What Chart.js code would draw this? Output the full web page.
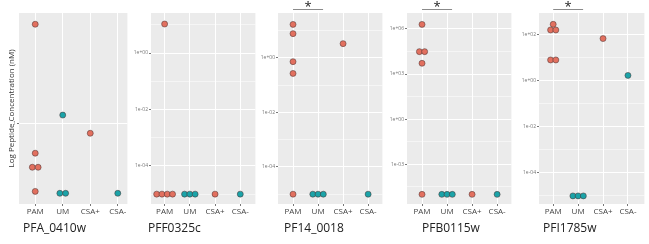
<!DOCTYPE html>
<html>
<head>
<meta charset="utf-8">
<script src="https://cdn.jsdelivr.net/npm/chart.js@4.4.0/dist/chart.umd.min.js"></script>
<style>
    body { margin: 0; background: #fff; width: 649px; height: 244px; overflow: hidden; position: relative; }
    canvas { position: absolute; top: 0; }
    .gene { position: absolute; top: 220px; line-height: 16px; font-family: "Open Sans", sans-serif; font-size: 12px; color: #222; white-space: nowrap; }
</style>
</head>
<body>
<script>
var categories = ['PAM', 'UM', 'CSA+', 'CSA-'];
var genes = ['PFA_0410w', 'PFF0325c', 'PF14_0018', 'PFB0115w', 'PFI1785w'];

// peptide concentration (nM) per category: PAM, UM, CSA+, CSA-
var pfa0410w = [[5.8, 0.59, 0.46, 0.46, 0.30], [1.16, 0.29, 0.29], [0.84], [0.29]];
var pff0325c = [[10.7, 1e-5, 1e-5, 1e-5, 1e-5], [1e-5, 1e-5, 1e-5], [1e-5], [1e-5]];
var pf14_0018 = [[17, 7.8, 0.73, 0.27, 1e-5], [1e-5, 1e-5, 1e-5], [3.35], [1e-5]];
var pfb0115w = [[2.0e6, 3.1e4, 3.1e4, 5.2e3, 1e-5], [1e-5, 1e-5, 1e-5], [1e-5], [1e-5]];
var pfi1785w = [[270, 153, 153, 7.7, 7.7], [1e-5, 1e-5, 1e-5], [65], [1.65]];

// major breaks (log10) and tick labels
var p1Breaks = [0], p1Labels = ['1'];
var p2Breaks = [0, -2, -4], p2Labels = ['1e+00', '1e-02', '1e-04'];
var p3Breaks = [0, -2, -4], p3Labels = ['1e+00', '1e-02', '1e-04'];
var p4Breaks = [6, 3, 0, -3], p4Labels = ['1e+06', '1e+03', '1e+00', '1e-03'];
var p5Breaks = [2, 0, -2, -4], p5Labels = ['1e+02', '1e+00', '1e-02', '1e-04'];

// y limits (log10)
var p1Lim = [-0.62, 0.85];
var p2Lim = [-5.35, 1.42];
var p3Lim = [-5.36, 1.65];
var p4Lim = [-5.64, 7.06];
var p5Lim = [-5.35, 2.92];

var dotFill = ['#E2705F', '#1BA3A8', '#E2705F', '#1BA3A8'];
var FONT = '"Open Sans", sans-serif';

var panels = [
    { values: pfa0410w, breaks: p1Breaks, labels: p1Labels, lim: p1Lim, star: false, left: 0, axisW: 19, right: 132, xmin: 0.41, xmax: 4.35, titleX: 23, ytitle: true },
    { values: pff0325c, breaks: p2Breaks, labels: p2Labels, lim: p2Lim, star: false, left: 129, axisW: 22, right: 260, xmin: 0.46, xmax: 4.6, titleX: 148 },
    { values: pf14_0018, breaks: p3Breaks, labels: p3Labels, lim: p3Lim, star: true, left: 256, axisW: 22, right: 387, xmin: 0.4, xmax: 4.57, titleX: 284 },
    { values: pfb0115w, breaks: p4Breaks, labels: p4Labels, lim: p4Lim, star: true, left: 385, axisW: 22, right: 516, xmin: 0.4, xmax: 4.57, titleX: 422 },
    { values: pfi1785w, breaks: p5Breaks, labels: p5Labels, lim: p5Lim, star: true, left: 517, axisW: 22, right: 649, xmin: 0.43, xmax: 4.66, titleX: 543 }
];

// centre-stack equal values side by side, like geom_dotplot
function dodge(vals, cat, step) {
    var counts = {}, seen = {}, pts = [];
    vals.forEach(function (v) { counts[v] = (counts[v] || 0) + 1; });
    vals.forEach(function (v) {
        var i = seen[v] || 0;
        seen[v] = i + 1;
        pts.push({ x: cat + (i - (counts[v] - 1) / 2) * step, y: v });
    });
    return pts;
}

function yTicks(p) {
    var t = [];
    p.breaks.forEach(function (b, i) { t.push({ value: Math.pow(10, b), label: p.labels[i], minor: false }); });
    if (p.breaks.length > 1) {
        var step = p.breaks[0] - p.breaks[1];
        var mins = [p.breaks[0] + step / 2];
        p.breaks.forEach(function (b) { mins.push(b - step / 2); });
        mins.forEach(function (m) {
            if (m > p.lim[0] && m < p.lim[1]) t.push({ value: Math.pow(10, m), label: '', minor: true });
        });
    }
    return t;
}

var panelBg = {
    id: 'panelBg',
    beforeDraw: function (chart) {
        var a = chart.chartArea, ctx = chart.ctx;
        ctx.save();
        ctx.fillStyle = '#EBEBEB';
        ctx.fillRect(a.left, a.top, a.right - a.left, a.bottom - a.top);
        ctx.restore();
    }
};

var starBar = {
    id: 'starBar',
    afterDraw: function (chart, args, opts) {
        if (!opts.show) return;
        var x = chart.scales.x, ctx = chart.ctx;
        var x1 = x.getPixelForValue(1), x2 = x.getPixelForValue(2.2);
        ctx.save();
        ctx.strokeStyle = '#8a8a8a';
        ctx.lineWidth = 1;
        ctx.beginPath();
        ctx.moveTo(x1, 9.5);
        ctx.lineTo(x2, 9.5);
        ctx.stroke();
        ctx.fillStyle = '#222';
        ctx.font = '13px ' + FONT;
        ctx.textAlign = 'center';
        ctx.textBaseline = 'alphabetic';
        ctx.fillText('*', (x1 + x2) / 2, 11);
        ctx.restore();
    }
};

panels.forEach(function (p, n) {
    var w = p.right - p.left;
    var cv = document.createElement('canvas');
    cv.width = w; cv.height = 244;
    cv.style.left = p.left + 'px';
    cv.style.width = w + 'px';
    cv.style.height = '244px';
    document.body.appendChild(cv);

    var title = document.createElement('div');
    title.className = 'gene';
    title.style.left = p.titleX + 'px';
    title.textContent = genes[n];
    document.body.appendChild(title);

    var datasets = p.values.map(function (vals, ci) {
        return {
            data: dodge(vals, ci + 1, 0.21),
            backgroundColor: dotFill[ci],
            borderColor: 'rgba(70,45,45,0.85)',
            borderWidth: 0.6,
            pointRadius: 3
        };
    });

    new Chart(cv, {
        type: 'scatter',
        data: { datasets: datasets },
        options: {
            responsive: false,
            animation: false,
            devicePixelRatio: 1,
            layout: { padding: { top: 13, bottom: 24, left: 0, right: 0 } },
            plugins: { legend: { display: false }, tooltip: { enabled: false }, starBar: { show: p.star } },
            scales: {
                x: {
                    type: 'linear', min: p.xmin, max: p.xmax,
                    afterBuildTicks: function (s) {
                        s.ticks = categories.map(function (c, i) { return { value: i + 1, label: c }; });
                    },
                    afterFit: function (s) { s.height = 16; },
                    ticks: {
                        autoSkip: false, maxRotation: 0, padding: 1, color: '#444',
                        font: { family: FONT, size: 8 },
                        callback: function (v, i, t) { return t[i].label; }
                    },
                    grid: { color: '#fff', lineWidth: 1, tickLength: 2, tickColor: '#777' },
                    border: { display: false }
                },
                y: {
                    type: 'logarithmic', bounds: 'data',
                    min: Math.pow(10, p.lim[0]), max: Math.pow(10, p.lim[1]),
                    afterBuildTicks: function (s) { s.ticks = yTicks(p); },
                    afterFit: function (s) { s.width = p.axisW; },
                    ticks: {
                        autoSkip: false, padding: 1, color: '#777',
                        font: { family: FONT, size: 5 },
                        callback: function (v, i, t) { return t[i].label; }
                    },
                    grid: {
                        color: '#fff',
                        lineWidth: function (c) { return c.tick && c.tick.minor ? 0.5 : 1; },
                        tickLength: 2,
                        tickColor: function (c) { return c.tick && c.tick.minor ? 'rgba(0,0,0,0)' : '#777'; }
                    },
                    border: { display: false },
                    title: {
                        display: !!p.ytitle, text: 'Log Peptide Concentration (nM)', color: '#333',
                        font: { family: FONT, size: 8 }, padding: { top: 7, bottom: 0 }
                    }
                }
            }
        },
        plugins: [panelBg, starBar]
    });
});
</script>
</body>
</html>
